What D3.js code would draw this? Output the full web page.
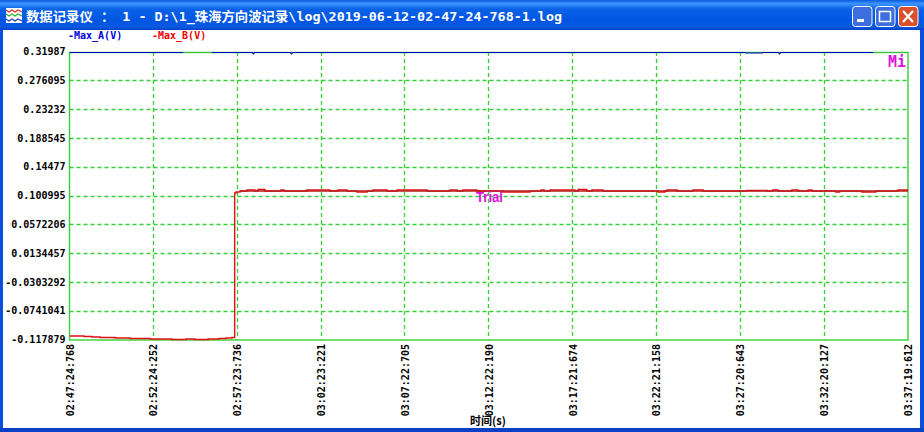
<!DOCTYPE html>
<html><head><meta charset="utf-8">
<script src="https://cdn.jsdelivr.net/npm/d3@7/dist/d3.min.js"></script>
<style>html,body{margin:0;padding:0;background:#fff;overflow:hidden}svg{display:block}
text{font-family:"DejaVu Sans Mono","Liberation Mono",monospace;font-weight:bold}</style>
</head><body><svg id="c" width="924" height="432"></svg>
<script>
const titleText = "数据记录仪 ： 1 - D:\\1_珠海方向波记录\\log\\2019-06-12-02-47-24-768-1.log";
const seriesNames = ["-Max_A(V)", "-Max_B(V)"];
const yTickLabels = ["0.31987","0.276095","0.23232","0.188545","0.14477","0.100995","0.0572206","0.0134457","-0.0303292","-0.0741041","-0.117879"];
const xTickLabels = ["02:47:24:768","02:52:24:252","02:57:23:736","03:02:23:221","03:07:22:705","03:12:22:190","03:17:21:674","03:22:21:158","03:27:20:643","03:32:20:127","03:37:19:612"];
const yMin = -0.117879, yMax = 0.31987, tMax = 2994.844;
// seconds since start, volts
const maxBTimes = [0,52,80,109,163,216,288,366,416,448,495,534,559,580,589,590,595,609,634,662,673,698,755,766,848,930,959,991,1027,1063,1084,1134,1170,1277,1359,1384,1405,1455,1548,1645,1684,1695,1716,1805,1816,1848,1866,1905,2102,2127,2134,2170,2227,2263,2420,2491,2512,2530,2580,2602,2638,2652,2737,2751,2830,2880,2959,2994];
const maxBValues = [-0.1118,-0.1125,-0.1133,-0.1141,-0.1149,-0.1157,-0.1164,-0.1172,-0.1164,-0.1172,-0.1164,-0.1157,-0.1149,-0.1141,-0.1141,0.1056,0.1071,0.1086,0.1101,0.1086,0.1109,0.1086,0.1101,0.1086,0.1101,0.1086,0.1101,0.1086,0.1071,0.1086,0.1101,0.1086,0.1101,0.1086,0.1101,0.1086,0.1101,0.1086,0.1071,0.1086,0.1101,0.1086,0.1101,0.1086,0.1109,0.1086,0.1101,0.1086,0.1071,0.1086,0.1101,0.1086,0.1101,0.1086,0.1094,0.1086,0.1101,0.1086,0.1101,0.1086,0.1101,0.1086,0.1071,0.1086,0.1071,0.1086,0.1101,0.1086];
const maxBBaseTimes = [609,2994];
const maxBBaseValues = [0.1086,0.1086];
const maxATimes = [0,405,509,655,659,791,795,2413,2477,2534,2538,2870,2994];
const maxAValues = [0.3191,0.3205,0.3191,0.3168,0.3191,0.3168,0.3191,0.3184,0.3191,0.3168,0.3191,0.3205,0.3205];
const noteLabels = ["Trial","Mi"];

const svg = d3.select("#c");
const W=924,H=432, L=69.5,R=908,T=52,B=340;

// window frame
const defs = svg.append("defs");
const g1 = defs.append("linearGradient").attr("id","tb").attr("x1",0).attr("x2",0).attr("y1",0).attr("y2",1);
[[0,"#0a5ce0"],[0.12,"#3d95ff"],[0.3,"#0a62e6"],[0.7,"#0055e2"],[0.9,"#0a5ae0"],[1,"#0240c4"]].forEach(s=>g1.append("stop").attr("offset",s[0]).attr("stop-color",s[1]));
svg.append("rect").attr("width",W).attr("height",H).attr("fill","#0a3fc8");
svg.append("rect").attr("width",W).attr("height",30).attr("fill","url(#tb)");
svg.append("rect").attr("x",3).attr("y",30).attr("width",W-7).attr("height",H-34).attr("fill","#fff");
svg.append("rect").attr("x",0).attr("y",30).attr("width",3).attr("height",H-30).attr("fill","#0a50dc");
svg.append("rect").attr("x",W-4).attr("y",30).attr("width",4).attr("height",H-30).attr("fill","#0a50dc");
svg.append("rect").attr("x",0).attr("y",H-4).attr("width",W).attr("height",4).attr("fill","#0a3fc8");

// title icon
const ic = svg.append("g");
ic.append("rect").attr("x",6).attr("y",8).attr("width",16).attr("height",15).attr("fill","#fff");
[["#e03030",10],["#30b030",14],["#2040c0",19]].forEach(c=>ic.append("path").attr("d",`M6 ${c[1]}l3 2l3 -2l3 2l3 -2l4 2`).attr("fill","none").attr("stroke",c[0]).attr("stroke-width",1.3));

svg.append("text").attr("x",26).attr("y",20.5).attr("fill","#fff")
  .attr("textLength",536).attr("lengthAdjust","spacingAndGlyphs")
  .style("font-family",'"DejaVu Sans Mono","Noto Sans CJK SC",monospace').style("font-size","13px").text(titleText);

// window buttons
[[852,"#3c6ee0"],[875,"#3c6ee0"],[898,"#d8502c"]].forEach((b,i)=>{
  const g=svg.append("g").attr("transform",`translate(${b[0]},6)`);
  g.append("rect").attr("x",0.5).attr("y",0.5).attr("width",19.5).attr("height",20).attr("rx",3).attr("fill",b[1]).attr("stroke","#fff");
  if(i==0) g.append("rect").attr("x",5).attr("y",13).attr("width",7).attr("height",3).attr("fill","#fff");
  if(i==1) g.append("rect").attr("x",4.5).attr("y",5.5).attr("width",11).attr("height",10).attr("fill","none").attr("stroke","#fff").attr("stroke-width",1.5);
  if(i==2) g.append("path").attr("d","M5 5L15 16M15 5L5 16").attr("stroke","#fff").attr("stroke-width",2.2);
});

const x = d3.scaleLinear().domain([0,tMax]).range([L,R]);
const y = d3.scaleLinear().domain([yMin,yMax]).range([B,T]);
const xTicks = d3.range(xTickLabels.length).map(i=>i*tMax/(xTickLabels.length-1));
const yTicks = d3.range(yTickLabels.length).map(i=>yMax-i*(yMax-yMin)/(yTickLabels.length-1));

const green="#35d035";
const grid=svg.append("g");
grid.selectAll("line.v").data(xTicks.slice(1,-1)).join("line").attr("class","v")
  .attr("x1",d=>Math.floor(x(d))+0.5).attr("x2",d=>Math.floor(x(d))+0.5).attr("y1",T).attr("y2",B)
  .attr("stroke",green).attr("stroke-width",1.3).attr("stroke-dasharray","4 3");
grid.selectAll("line.h").data(yTicks.slice(1,-1)).join("line").attr("class","h")
  .attr("x1",L).attr("x2",R).attr("y1",d=>Math.floor(y(d))+0.5).attr("y2",d=>Math.floor(y(d))+0.5)
  .attr("stroke",green).attr("stroke-width",1.3).attr("stroke-dasharray","4 3");
svg.append("rect").attr("x",L).attr("y",T+0.5).attr("width",R-L).attr("height",B-T-0.5).attr("fill","none").attr("stroke",green).attr("stroke-width",1.4);

// axes labels via d3 axes
const yAxis = d3.axisLeft(y).tickValues(yTicks).tickSize(0).tickPadding(4).tickFormat((d,i)=>yTickLabels[i]);
const ya = svg.append("g").attr("transform",`translate(${L},-0.5)`).call(yAxis);
ya.select(".domain").remove();
ya.selectAll("text").style("font-size","10px").attr("fill","#000");
const xAxis = d3.axisBottom(x).tickValues(xTicks).tickSize(0).tickFormat((d,i)=>xTickLabels[i]);
const xa = svg.append("g").attr("transform",`translate(0,${B})`).call(xAxis);
xa.select(".domain").remove();
xa.selectAll("text").style("font-size","10px").attr("fill","#000")
  .attr("transform","rotate(-90)").attr("text-anchor","end").attr("x",-4).attr("y",0).attr("dy","0.35em");

defs.append("clipPath").attr("id","plot").append("rect").attr("x",L).attr("y",T).attr("width",R-L).attr("height",B-T+1);
const line=d3.line().curve(d3.curveStepAfter).x(d=>x(d[0])).y(d=>y(d[1]));
const a=d3.zip(maxATimes,maxAValues), b=d3.zip(maxBTimes,maxBValues), base=d3.zip(maxBBaseTimes,maxBBaseValues);
const plot=svg.append("g").attr("clip-path","url(#plot)");
plot.append("path").attr("d",line(a)).attr("fill","none").attr("stroke","#0000c8").attr("stroke-width",1);
plot.append("path").attr("d",line(b)).attr("fill","none").attr("stroke","#e01010").attr("stroke-width",1.4);
plot.append("path").attr("d",line(base)).attr("fill","none").attr("stroke","#b81c1c").attr("stroke-width",1.5);

// legend
const lg=[["#0000e0",68],["#f00000",152]];
seriesNames.forEach((n,i)=>svg.append("text").attr("x",lg[i][1]).attr("y",38.5).attr("fill",lg[i][0]).style("font-size","10px").text(n));

svg.append("text").attr("x",476).attr("y",202).attr("fill","#e010e0").attr("textLength",27).attr("lengthAdjust","spacingAndGlyphs").style("font-family",'"Liberation Sans"').style("font-size","14px").text(noteLabels[0]);
svg.append("text").attr("x",888).attr("y",67).attr("fill","#e010e0").attr("textLength",18).attr("lengthAdjust","spacingAndGlyphs").style("font-size","15px").text(noteLabels[1]);
svg.append("text").attr("x",488).attr("y",425).attr("text-anchor","middle").attr("fill","#000")
  .style("font-family",'"Noto Sans CJK SC"').style("font-size","11px").text("时间(s)");
</script></body></html>
